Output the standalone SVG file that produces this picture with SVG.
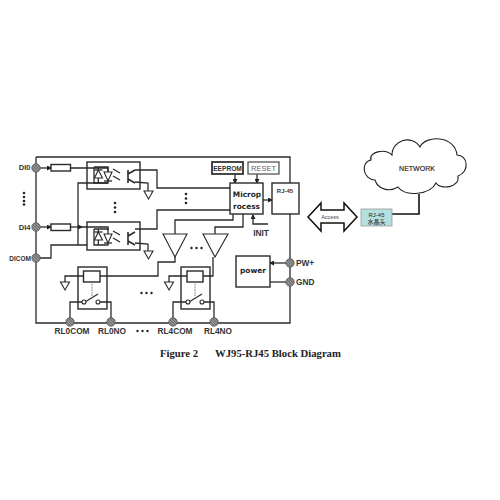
<svg xmlns="http://www.w3.org/2000/svg" xmlns:xlink="http://www.w3.org/1999/xlink" width="500" height="500" viewBox="0 0 500 500">
<style>
.w{fill:none;stroke:#2a2a2a;stroke-width:1.3}
.b{fill:#fff;stroke:#2a2a2a;stroke-width:1.4}
.g{fill:#fff;stroke:#2a2a2a;stroke-width:1.1}
.l{font-family:"Liberation Sans",Arial,sans-serif;font-weight:bold;fill:#333;font-size:8.3px}
.m{font-family:"DejaVu Sans",sans-serif;font-weight:bold;fill:#222;font-size:7.4px;text-anchor:middle}
.d{fill:#222}
</style>
<defs>
<pattern id="hatch" width="2" height="2" patternUnits="userSpaceOnUse" patternTransform="rotate(45)"><rect width="2" height="2" fill="#aaa"/><rect width="2" height=".9" fill="#555"/></pattern>
<marker id="a" markerWidth="5" markerHeight="5" refX="4" refY="2.5" orient="auto" markerUnits="userSpaceOnUse"><path d="M0,0L5,2.5L0,5Z" fill="#222"/></marker>
<path id="gnd" d="M-4.5,0H4.5L0,8Z" class="g"/>
<circle id="term" r="4.2" fill="url(#hatch)" stroke="#555" stroke-width=".8"/>
<g id="dots3"><circle cy="-4.5" r="1.3" class="d"/><circle cy="0" r="1.3" class="d"/><circle cy="4.5" r="1.3" class="d"/></g>
<g id="hdots"><circle cx="-5" r="1.2" class="d"/><circle cx="0" r="1.2" class="d"/><circle cx="5" r="1.2" class="d"/></g>
<g id="optoin">
<path class="w" d="M94,5V21H108V5H94M98.3,5V21M108,5V21"/>
<path class="g" d="M94.5,16H102.500L98.300,8Z"/><path class="w" d="M94.500,8H102.500"/>
<path class="g" d="M104,10H112L108,19Z"/><path class="w" d="M104,19H112"/>
<path class="w" d="M113,7L120,11M113,14L120,18"/>
<path class="w" style="stroke-width:1.600" d="M128,8V21M128,12L135,8M128,17L135,21"/>
</g>
</defs>
<rect width="500" height="500" fill="#fff"/>

<g id="connectors">
<path class="w" d="M36,157H290V183M290,214V323H36V157"/>
<path class="w" marker-end="url(#a)" d="M40,168H51"/>
<path class="w" d="M70.500,168H108V172"/>
<path class="w" marker-end="url(#a)" d="M40,227H51"/>
<path class="w" marker-end="url(#a)" d="M70.500,227H82"/>
<path class="w" d="M82,227H108V230"/>
<path class="w" d="M108,183H78V245"/>
<path class="w" d="M40,258H51V245H87"/>
<path class="w" d="M135,170H157V188H230"/>
<path class="w" d="M135,182L148,183V191"/>
<path class="w" d="M230,210H157V229H135"/>
<path class="w" d="M135,243L148,244V251"/>
<path class="w" marker-end="url(#a)" d="M235,174V183"/>
<path class="w" marker-end="url(#a)" d="M257,174V183"/>
<path class="w" marker-end="url(#a)" d="M263,200H272"/>
<path class="w" marker-end="url(#a)" d="M268,224H253V215"/>
<path class="w" d="M233,214V220H175V234"/>
<path class="w" d="M243,214V227H215V234"/>
<path class="w" d="M100,276H158V262H175V257"/>
<path class="w" d="M83,276H65V282"/>
<path class="w" d="M82,302H70V318"/>
<path class="w" d="M100,302H111V318"/>
<path class="w" d="M203,276H213V257"/>
<path class="w" d="M187,276H169V282"/>
<path class="w" d="M186,302H173V318"/>
<path class="w" d="M204,302H214V318"/>
<path class="w" marker-end="url(#a)" d="M286,263H270"/>
<path class="w" d="M270,282H286"/>
<path fill="none" stroke="#111" stroke-width="1.600" d="M419,194V214H392"/>
</g>

<g id="terminals">
<use xlink:href="#term" href="#term" x="36" y="168"/>
<use xlink:href="#term" href="#term" x="36" y="227"/>
<use xlink:href="#term" href="#term" x="36" y="258"/>
<use xlink:href="#term" href="#term" x="70" y="322"/>
<use xlink:href="#term" href="#term" x="111" y="322"/>
<use xlink:href="#term" href="#term" x="173" y="322"/>
<use xlink:href="#term" href="#term" x="214" y="322"/>
<use xlink:href="#term" href="#term" x="290" y="263"/>
<use xlink:href="#term" href="#term" x="290" y="282"/>
<text class="l" x="30.500" y="170" text-anchor="end" style="font-size:7.600px">DI0</text>
<text class="l" x="30.500" y="229.500" text-anchor="end" style="font-size:7.600px">DI4</text>
<text class="l" x="31" y="261" text-anchor="end" style="font-size:6.500px">DICOM</text>
<text class="l" x="72" y="334" text-anchor="middle">RL0COM</text>
<text class="l" x="112" y="334" text-anchor="middle">RL0NO</text>
<text class="l" x="175" y="334" text-anchor="middle">RL4COM</text>
<text class="l" x="218" y="334" text-anchor="middle">RL4NO</text>
<text class="l" x="296" y="266">PW+</text>
<text class="l" x="296" y="285">GND</text>
</g>

<g id="res0"><rect class="b" x="51" y="164.500" width="19.500" height="6.500"/></g>
<g id="res4"><rect class="b" x="51" y="224" width="19.500" height="6.500"/></g>

<g id="opto0">
<rect class="b" x="87" y="162" width="53" height="27" style="fill:none"/>
<use xlink:href="#optoin" href="#optoin" y="162"/>
<use xlink:href="#gnd" href="#gnd" x="148.500" y="191"/>
</g>
<g id="opto4">
<rect class="b" x="87" y="222" width="53" height="28" style="fill:none"/>
<use xlink:href="#optoin" href="#optoin" y="224"/>
<use xlink:href="#gnd" href="#gnd" x="148.500" y="251"/>
</g>

<g id="dots">
<use xlink:href="#dots3" href="#dots3" x="115" y="207.500"/>
<use xlink:href="#dots3" href="#dots3" x="186" y="198.500"/>
<circle class="d" cx="24" cy="193" r="1.300"/><circle class="d" cx="24" cy="197" r="1.300"/><circle class="d" cx="24" cy="201" r="1.300"/><circle class="d" cx="24" cy="204.500" r="1.300"/>
<use xlink:href="#hdots" href="#hdots" x="196.500" y="248"/>
<use xlink:href="#hdots" href="#hdots" x="146.500" y="293"/>
<use xlink:href="#hdots" href="#hdots" x="142.500" y="331"/>
</g>

<g id="eeprom"><rect x="212" y="162" width="31" height="12" fill="#fff" stroke="#333" stroke-width="1.800"/><text x="227.500" y="171" text-anchor="middle" class="l" style="font-size:6.600px">EEPROM</text></g>
<g id="reset"><rect x="248" y="162" width="31" height="12" fill="#fff" stroke="#555" stroke-width="1.300"/><text x="263.500" y="171" text-anchor="middle" font-family="Liberation Sans,sans-serif" font-size="7.500" fill="#666">RESET</text></g>
<g id="micro"><rect class="b" x="230" y="183" width="33" height="31"/><text class="m" x="247" y="197">Microp</text><text class="m" x="246.500" y="209">rocess</text></g>
<g id="rj45"><rect class="b" x="272" y="183" width="27" height="31"/><text x="285" y="193" text-anchor="middle" class="l" style="font-size:6px">RJ-45</text></g>
<g id="init"><text class="l" x="261" y="236" text-anchor="middle">INIT</text></g>
<g id="amp0"><path class="g" d="M163,234H187L175,257Z"/></g>
<g id="amp4"><path class="g" d="M203,234H228L215,257Z"/></g>
<g id="power"><rect class="b" x="236" y="256" width="34" height="31"/><text class="m" x="253" y="273">power</text></g>

<g id="relay0">
<rect class="b" x="78" y="267" width="29" height="42" style="fill:none"/>
<rect class="b" x="83.500" y="271" width="16.500" height="11"/>
<path d="M92,282V297" stroke="#777" stroke-width="1" stroke-dasharray="1.500 1" fill="none"/>
<path class="w" d="M85,302L98,294"/>
<circle class="g" cx="84" cy="302" r="2"/><circle class="g" cx="98" cy="302" r="2"/>
<use xlink:href="#gnd" href="#gnd" x="65" y="282"/>
</g>
<g id="relay4">
<rect class="b" x="181" y="267" width="29" height="42" style="fill:none"/>
<rect class="b" x="187" y="271" width="16" height="11"/>
<path d="M195,282V297" stroke="#777" stroke-width="1" stroke-dasharray="1.500 1" fill="none"/>
<path class="w" d="M189,302L202,294"/>
<circle class="g" cx="188" cy="302" r="2"/><circle class="g" cx="202" cy="302" r="2"/>
<use xlink:href="#gnd" href="#gnd" x="169" y="282"/>
</g>

<g id="network">
<path fill="#fff" stroke="#222" stroke-width="1.100" d="M375,180C363,180 360,162 371,160C368,152 385,148 392,155C392,140 412,134 420,147C425,135 455,135 457,155C468,155 470,172 458,176C460,188 440,190 436,183C430,195 405,197 398,187C390,192 378,190 375,180Z"/>
<text x="417" y="171" text-anchor="middle" font-family="Liberation Sans,sans-serif" font-size="7" fill="#222" stroke="#222" stroke-width=".15">NETWORK</text>
</g>
<g id="plug">
<rect x="361" y="209" width="31" height="17" fill="#b5e0e0" stroke="#999" stroke-width=".8"/>
<text x="376.500" y="216.500" text-anchor="middle" font-family="Liberation Sans,sans-serif" font-size="6" fill="#222">RJ-45</text>
<text x="376.500" y="224" text-anchor="middle" font-family="Liberation Sans,Noto Sans CJK SC,sans-serif" font-size="6" fill="#222">水晶头</text>
</g>
<g id="access">
<path fill="#fff" stroke="#111" stroke-width="1.500" d="M308,217L321,203V210H344V203L357,217L344,231V223H321V231Z"/>
<text x="330" y="219" text-anchor="middle" font-family="Liberation Sans,sans-serif" font-size="5.500" fill="#444">Access</text>
</g>
<g id="caption" font-family="Liberation Serif,serif" font-weight="bold" font-size="10.700" fill="#222">
<text x="160" y="357">Figure 2</text>
<text x="215" y="357">WJ95-RJ45 Block Diagram</text>
</g>
</svg>
